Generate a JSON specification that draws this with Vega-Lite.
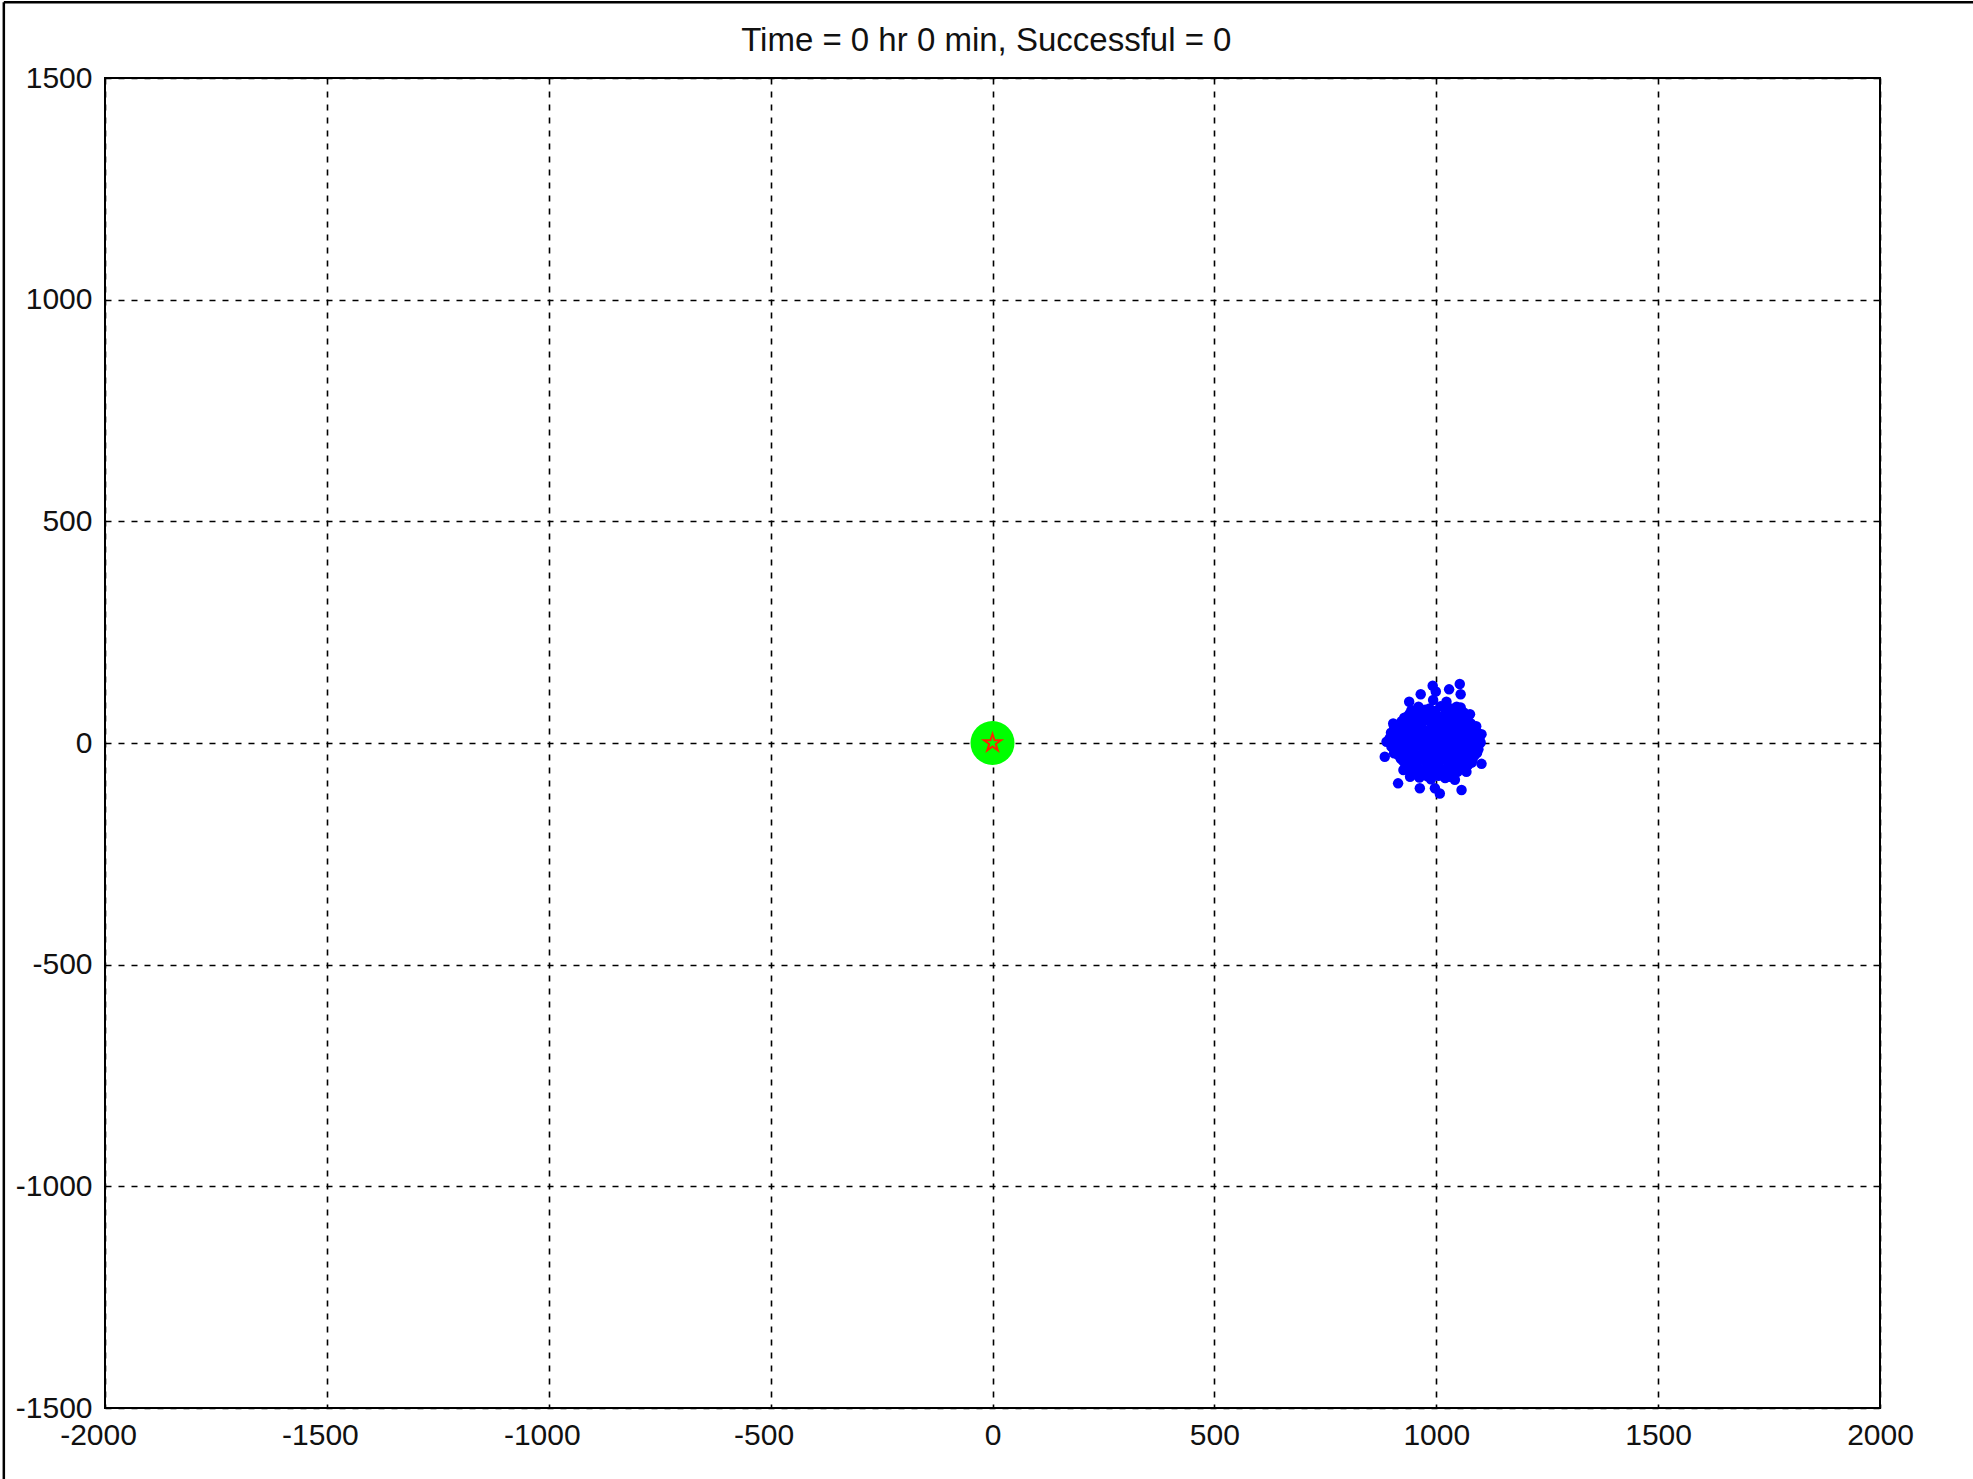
{
  "$schema": "https://vega.github.io/schema/vega-lite/v6.json",
  "width": 1775,
  "height": 1330,
  "autosize": {"type": "none"},
  "padding": {"left": 105, "top": 78, "right": 93, "bottom": 71},
  "background": "white",
  "config": {
    "view": {"stroke": "black", "strokeWidth": 2},
    "axis": {
      "grid": true,
      "gridColor": "black",
      "gridDash": [6, 7],
      "gridWidth": 1.6,
      "gridOpacity": 1,
      "domain": false,
      "ticks": false,
      "tickSize": 0,
      "labelFlush": false,
      "labelFont": "Liberation Sans",
      "labelFontSize": 30,
      "labelColor": "#111111",
      "labelExpr": "datum.value + ''",
      "title": null
    }
  },
  "encoding": {
    "x": {"field": "x", "type": "quantitative",
          "scale": {"domain": [-2000, 2000], "nice": false, "zero": false},
          "axis": {"values": [-2000, -1500, -1000, -500, 0, 500, 1000, 1500, 2000], "labelPadding": 12, "orient": "bottom",
                   "labelOffset": {"condition": {"test": "datum.value < 0", "value": -7}, "value": 0}}},
    "y": {"field": "y", "type": "quantitative",
          "scale": {"domain": [-1500, 1500], "nice": false, "zero": false},
          "axis": {"values": [-1500, -1000, -500, 0, 500, 1000, 1500], "labelPadding": 13, "orient": "left"}}
  },
  "layer": [
    {
      "data": {"values": [
        {"x":960,"y":82},{"x":985,"y":78},{"x":1010,"y":83},{"x":1035,"y":77},{"x":1055,"y":80},
        {"x":940,"y":66},{"x":970,"y":70},{"x":995,"y":67},{"x":1022,"y":71},{"x":1045,"y":65},{"x":1062,"y":69},
        {"x":928,"y":57},{"x":952,"y":53},{"x":978,"y":56},{"x":1002,"y":52},{"x":1028,"y":58},{"x":1050,"y":54},{"x":1070,"y":56},
        {"x":915,"y":40},{"x":938,"y":44},{"x":962,"y":41},{"x":988,"y":45},{"x":1015,"y":39},{"x":1038,"y":43},{"x":1060,"y":41},{"x":1078,"y":44},
        {"x":910,"y":32},{"x":930,"y":28},{"x":950,"y":31},{"x":975,"y":27},{"x":1000,"y":32},{"x":1020,"y":29},{"x":1042,"y":33},{"x":1065,"y":28},{"x":1084,"y":31},
        {"x":918,"y":16},{"x":942,"y":20},{"x":965,"y":17},{"x":990,"y":19},{"x":1012,"y":15},{"x":1033,"y":20},{"x":1055,"y":17},{"x":1075,"y":19},{"x":1090,"y":16},
        {"x":905,"y":8},{"x":932,"y":4},{"x":955,"y":7},{"x":980,"y":3},{"x":1005,"y":8},{"x":1025,"y":5},{"x":1048,"y":9},{"x":1070,"y":4},{"x":1088,"y":7},
        {"x":912,"y":-4},{"x":938,"y":-8},{"x":960,"y":-5},{"x":985,"y":-9},{"x":1010,"y":-3},{"x":1030,"y":-7},{"x":1052,"y":-4},{"x":1078,"y":-8},{"x":1095,"y":-5},
        {"x":920,"y":-16},{"x":945,"y":-20},{"x":972,"y":-17},{"x":995,"y":-21},{"x":1018,"y":-15},{"x":1040,"y":-19},{"x":1062,"y":-16},{"x":1085,"y":-20},
        {"x":915,"y":-28},{"x":935,"y":-32},{"x":958,"y":-29},{"x":982,"y":-33},{"x":1008,"y":-27},{"x":1028,"y":-31},{"x":1050,"y":-28},{"x":1072,"y":-32},
        {"x":925,"y":-40},{"x":950,"y":-44},{"x":975,"y":-41},{"x":998,"y":-45},{"x":1022,"y":-39},{"x":1045,"y":-43},{"x":1065,"y":-40},{"x":1080,"y":-44},
        {"x":935,"y":-53},{"x":960,"y":-57},{"x":985,"y":-54},{"x":1010,"y":-58},{"x":1035,"y":-52},{"x":1058,"y":-56},
        {"x":950,"y":-66},{"x":972,"y":-70},{"x":995,"y":-67},{"x":1015,"y":-71},{"x":1048,"y":-65},
        {"x":962,"y":-78},{"x":988,"y":-82},{"x":1020,"y":-79},{"x":1042,"y":-83},
        {"x":950,"y":73},{"x":975,"y":75},{"x":998,"y":72},{"x":1022,"y":76},{"x":1045,"y":74},
        {"x":935,"y":60},{"x":958,"y":63},{"x":985,"y":61},{"x":1012,"y":59},{"x":1036,"y":62},{"x":1058,"y":60},
        {"x":922,"y":49},{"x":948,"y":47},{"x":972,"y":50},{"x":996,"y":48},{"x":1020,"y":46},{"x":1044,"y":49},{"x":1066,"y":47},
        {"x":905,"y":37},{"x":925,"y":35},{"x":945,"y":38},{"x":968,"y":34},{"x":992,"y":37},{"x":1010,"y":36},{"x":1032,"y":38},{"x":1052,"y":35},{"x":1072,"y":37},{"x":1090,"y":38},
        {"x":898,"y":23},{"x":922,"y":25},{"x":940,"y":24},{"x":958,"y":22},{"x":982,"y":26},{"x":1005,"y":23},{"x":1028,"y":25},{"x":1050,"y":22},{"x":1070,"y":24},{"x":1092,"y":25},
        {"x":895,"y":11},{"x":908,"y":13},{"x":928,"y":12},{"x":948,"y":10},{"x":972,"y":14},{"x":998,"y":11},{"x":1020,"y":13},{"x":1040,"y":11},{"x":1062,"y":12},{"x":1082,"y":10},{"x":1098,"y":13},
        {"x":900,"y":-1},{"x":920,"y":1},{"x":945,"y":0},{"x":968,"y":-2},{"x":992,"y":1},{"x":1015,"y":-1},{"x":1038,"y":2},{"x":1060,"y":0},{"x":1082,"y":-1},{"x":1100,"y":1},
        {"x":902,"y":-11},{"x":925,"y":-13},{"x":950,"y":-12},{"x":972,"y":-10},{"x":998,"y":-14},{"x":1020,"y":-11},{"x":1042,"y":-13},{"x":1065,"y":-12},{"x":1088,"y":-10},
        {"x":905,"y":-23},{"x":930,"y":-25},{"x":952,"y":-24},{"x":978,"y":-22},{"x":1002,"y":-26},{"x":1025,"y":-23},{"x":1045,"y":-25},{"x":1068,"y":-24},{"x":1092,"y":-22},
        {"x":920,"y":-35},{"x":945,"y":-37},{"x":968,"y":-36},{"x":990,"y":-38},{"x":1015,"y":-34},{"x":1038,"y":-36},{"x":1060,"y":-37},{"x":1082,"y":-35},
        {"x":930,"y":-47},{"x":955,"y":-49},{"x":980,"y":-48},{"x":1005,"y":-50},{"x":1028,"y":-46},{"x":1052,"y":-48},{"x":1072,"y":-49},
        {"x":942,"y":-60},{"x":965,"y":-62},{"x":990,"y":-61},{"x":1020,"y":-63},{"x":1042,"y":-59},
        {"x":958,"y":-73},{"x":980,"y":-75},{"x":1005,"y":-74},{"x":1030,"y":-76},
        {"x":992,"y":129},{"x":999,"y":116},{"x":1029,"y":121},{"x":1053,"y":133},{"x":1055,"y":110},{"x":965,"y":110},
        {"x":939,"y":93},{"x":944,"y":74},{"x":1076,"y":65},{"x":1102,"y":20},{"x":888,"y":3},{"x":884,"y":-31},
        {"x":1102,"y":-47},{"x":914,"y":-91},{"x":963,"y":-102},{"x":997,"y":-102},{"x":1008,"y":-114},{"x":1057,"y":-106},
        {"x":1031,"y":-72},{"x":1068,"y":-65},{"x":1095,"y":-14},{"x":903,"y":44},{"x":899,"y":-8},{"x":926,"y":-61},
        {"x":941,"y":-76},{"x":1087,"y":-27},{"x":1046,"y":82},{"x":1023,"y":93},{"x":993,"y":97}
      ]},
      "mark": {"type": "point", "filled": true, "shape": "circle", "size": 110, "color": "#0000ff", "opacity": 1}
    },
    {
      "data": {"values": [{"x": 0, "y": 0}]},
      "mark": {"type": "point", "filled": true, "shape": "circle", "size": 1936, "color": "#00ff00", "opacity": 1}
    },
    {
      "data": {"values": [{"x": 0, "y": 0}]},
      "mark": {"type": "point", "filled": false,
               "shape": "M0,-1L0.225,-0.309L0.951,-0.309L0.363,0.118L0.588,0.809L0,0.382L-0.588,0.809L-0.363,0.118L-0.951,-0.309L-0.225,-0.309Z",
               "size": 324, "stroke": "#ff2000", "strokeWidth": 2, "opacity": 1}
    },
    {
      "data": {"values": [{"x": -2228, "y": 1671, "y2": -1665}]},
      "mark": {"type": "rule", "color": "black", "strokeWidth": 2.5, "clip": false},
      "encoding": {"y2": {"field": "y2"}}
    },
    {
      "data": {"values": [{"x": -2228, "x2": 2215, "y": 1671}]},
      "mark": {"type": "rule", "color": "black", "strokeWidth": 2.5, "clip": false},
      "encoding": {"x2": {"field": "x2"}}
    },
    {
      "data": {"values": [{"x": -14, "y": 1561, "label": "Time = 0 hr 0 min, Successful = 0"}]},
      "mark": {"type": "text", "font": "Liberation Sans", "fontSize": 33, "color": "#111111",
               "align": "center", "baseline": "alphabetic", "clip": false},
      "encoding": {"text": {"field": "label"}}
    }
  ]
}
